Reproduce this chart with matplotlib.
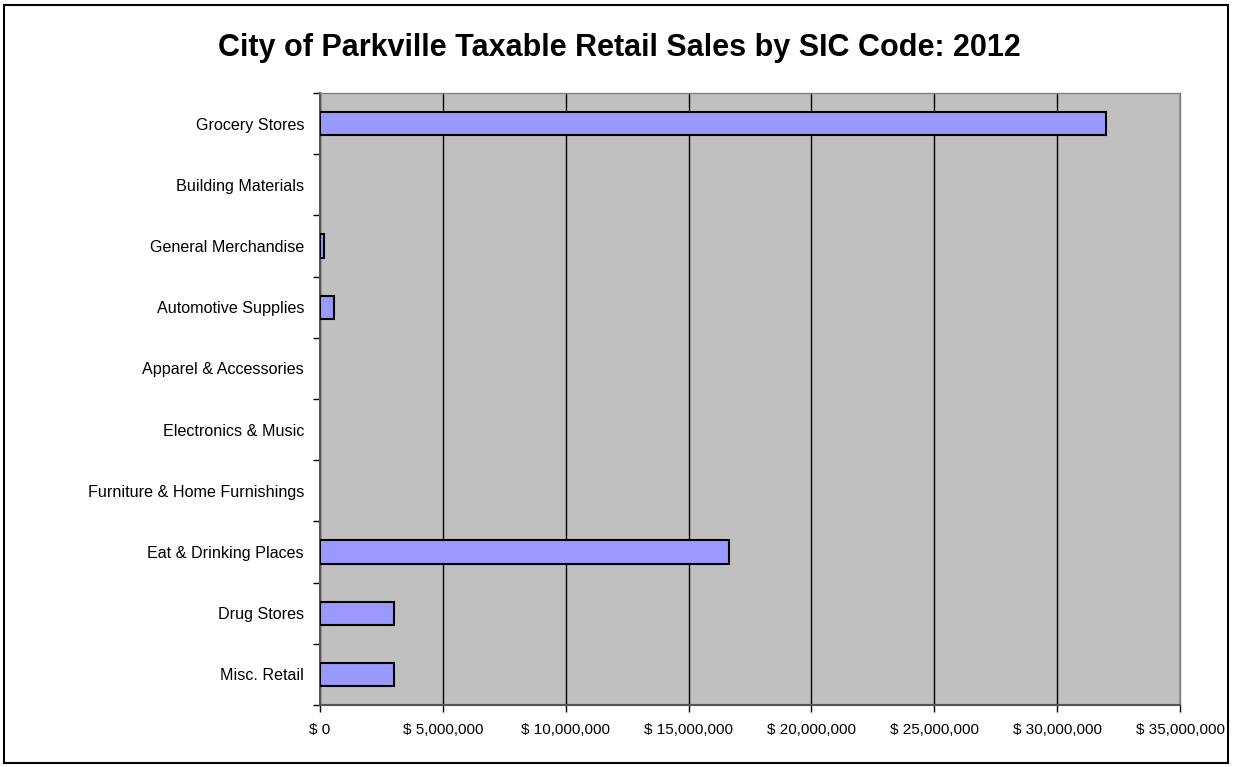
import matplotlib
matplotlib.use("Agg")
import matplotlib.pyplot as plt
from matplotlib.patches import Rectangle
from matplotlib.ticker import FuncFormatter, MultipleLocator, FixedLocator

categories = [
    "Grocery Stores",
    "Building Materials",
    "General Merchandise",
    "Automotive Supplies",
    "Apparel & Accessories",
    "Electronics & Music",
    "Furniture & Home Furnishings",
    "Eat & Drinking Places",
    "Drug Stores",
    "Misc. Retail",
]
sales = [32_000_000, 0, 170_000, 560_000, 0, 0, 0, 16_650_000, 3_020_000, 3_020_000]
title = "City of Parkville Taxable Retail Sales by SIC Code: 2012"

plt.rcParams["font.family"] = ["Liberation Sans", "DejaVu Sans"]

W, H = 1233, 767
fig = plt.figure(figsize=(W / 100, H / 100), dpi=100)
ax = fig.add_axes([320 / W, 1 - 705 / H, (1180 - 320) / W, (705 - 93) / H])

n = len(categories)
ypos = list(range(n))
lws = [1.5 if v > 0 else 0 for v in sales]
ax.barh(ypos, sales, height=0.38, color="#9999FF", edgecolor="black",
        linewidth=lws, zorder=3)

ax.set_facecolor("#C0C0C0")
ax.set_xlim(0, 35_000_000)
ax.set_ylim(n - 0.5, -0.5)

ax.xaxis.set_major_locator(MultipleLocator(5_000_000))
ax.xaxis.set_major_formatter(FuncFormatter(lambda v, p: f"$ {v:,.0f}"))
ax.grid(axis="x", color="black", linewidth=1.0, zorder=1)
ax.grid(axis="y", visible=False)

ax.set_yticks(ypos)
ax.set_yticklabels(categories, fontsize=11.6)
ax.tick_params(axis="y", which="major", length=0, pad=11.5)
ax.yaxis.set_minor_locator(FixedLocator([i - 0.5 for i in range(n + 1)]))
ax.tick_params(axis="y", which="minor", length=5, width=1, color="black")
ax.tick_params(axis="x", which="major", length=5, width=1, labelsize=11,
               pad=8, color="black")

for side in ["top", "right"]:
    ax.spines[side].set_color("#808080")
    ax.spines[side].set_linewidth(1.0)
for side in ["left", "bottom"]:
    ax.spines[side].set_color("#555555")
    ax.spines[side].set_linewidth(1.5)

fig.text(619 / W, 1 - 48 / H, title, ha="center", va="center",
         fontsize=22, fontweight="bold")

fig.patches.append(Rectangle((4 / W, 4 / H), (W - 9) / W, (H - 9) / H,
                             transform=fig.transFigure, fill=False,
                             edgecolor="black", linewidth=1.5))

fig.savefig("out.png", dpi=100, facecolor="white")
